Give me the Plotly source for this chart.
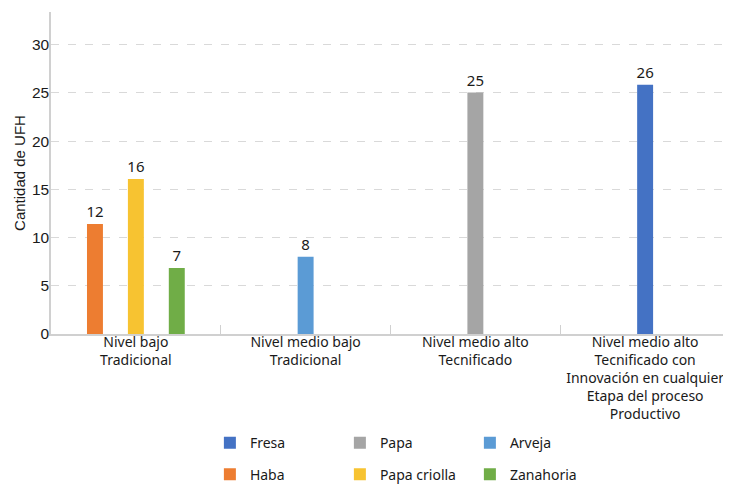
import plotly.graph_objects as go

categories = [
    "Nivel bajo<br>Tradicional",
    "Nivel medio bajo<br>Tradicional",
    "Nivel medio alto<br>Tecnificado",
    "Nivel medio alto<br>Tecnificado con<br>Innovación en cualquier<br>Etapa del proceso<br>Productivo",
]

series_names = ["Haba", "Papa criolla", "Zanahoria", "Fresa", "Papa", "Arveja"]
haba = [11.42, None, None, None]
papa_criolla = [16.09, None, None, None]
zanahoria = [6.85, None, None, None]
fresa = [None, None, None, 25.85]
papa = [None, None, 25.05, None]
arveja = [None, 8.0, None, None]

haba_lbl = ["12", "", "", ""]
papa_criolla_lbl = ["16", "", "", ""]
zanahoria_lbl = ["7", "", "", ""]
fresa_lbl = ["", "", "", "26"]
papa_lbl = ["", "", "25", ""]
arveja_lbl = ["", "8", "", ""]

colors = {
    "Fresa": "#4472C4",
    "Papa": "#A5A5A5",
    "Arveja": "#5B9BD5",
    "Haba": "#ED7D31",
    "Papa criolla": "#F7C331",
    "Zanahoria": "#70AD47",
}
offsetgroups = {"Haba": "a", "Papa criolla": "b", "Zanahoria": "c", "Fresa": "b", "Papa": "b", "Arveja": "b"}
legends = {"Fresa": "legend", "Papa": "legend", "Arveja": "legend",
           "Haba": "legend2", "Papa criolla": "legend2", "Zanahoria": "legend2"}

values = [haba, papa_criolla, zanahoria, fresa, papa, arveja]
labels = [haba_lbl, papa_criolla_lbl, zanahoria_lbl, fresa_lbl, papa_lbl, arveja_lbl]

FONT = "Noto Sans"
FONT2 = "Liberation Sans"
fig = go.Figure()
for name, vals, lbl in zip(series_names, values, labels):
    fig.add_trace(go.Bar(
        name=name, x=categories, y=vals, text=lbl,
        textposition="outside", cliponaxis=False, constraintext="none",
        textfont=dict(size=15, color="#1a1a1a", family=FONT),
        marker=dict(color=colors[name], line=dict(width=0)),
        offsetgroup=offsetgroups[name], legend=legends[name],
    ))

fig.update_layout(
    width=723, height=477,
    margin=dict(l=43, r=1, t=4, b=151, autoexpand=False),
    paper_bgcolor="white", plot_bgcolor="white",
    barmode="group", bargap=0.277, bargroupgap=0.61,
    font=dict(family=FONT, size=14, color="#1a1a1a"),
    legend=dict(orientation="h", x=0.234, xanchor="left", y=-0.339, yanchor="middle",
                entrywidth=85, entrywidthmode="pixels", font=dict(size=14),
                traceorder="normal"),
    legend2=dict(orientation="h", x=0.234, xanchor="left", y=-0.437, yanchor="middle",
                 entrywidth=85, entrywidthmode="pixels", font=dict(size=14),
                 traceorder="normal"),
    showlegend=True,
)
fig.update_xaxes(
    type="category", showline=True, linecolor="#d0d0d0", linewidth=1.5,
    ticks="inside", tickson="boundaries", ticklen=9, tickcolor="#d0d0d0",
    showgrid=False, tickfont=dict(size=14), tickangle=0, automargin=False,
    ticklabelstandoff=-6,
)
fig.update_yaxes(
    range=[0, 33.4], dtick=5, tick0=0, showline=True, linecolor="#d0d0d0", linewidth=1.5,
    showgrid=True, gridcolor="#d9d9d9", griddash="8px,9px", gridwidth=1,
    zeroline=False, ticks="", tickfont=dict(size=15.5, family=FONT2), automargin=False,
    ticklabelstandoff=-3,
    title=dict(text="Cantidad de UFH", font=dict(size=15, family=FONT2), standoff=3),
)

fig.write_html("out.html")
